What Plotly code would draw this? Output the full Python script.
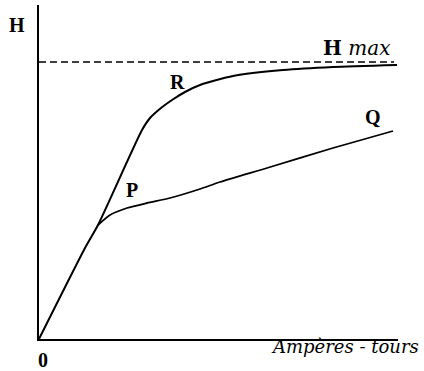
import plotly.graph_objects as go

# ampère-tours (x) vs H (y), in arbitrary units
or_x = [0, 46, 59, 103, 111, 122, 133, 146, 161, 194, 244, 294, 358]
or_y = [0, 91, 114, 209, 221, 231, 239, 247, 254, 263, 269, 272, 274]

pq_x = [59, 71, 88, 108, 131, 161, 181, 228, 294, 354]
pq_y = [114, 124, 131, 136, 141, 150, 157, 171, 191, 208]

h_max = 277
h_max_end = 355

x_max, y_max = 359, 334

labels = ["<b>H</b>", "<b>R</b>", "<b>P</b>", "<b>Q</b>", "<b>0</b>"]
label_x = [-22, 138, 93, 334, 4]
label_y = [314, 257, 149, 222, -21]

serif = "Liberation Serif, DejaVu Serif, serif"
italic = "DejaVu Serif, serif"

fig = go.Figure()
fig.add_trace(go.Scatter(x=or_x, y=or_y, mode="lines",
                         line=dict(color="black", width=2, shape="spline", smoothing=0.6),
                         hoverinfo="skip"))
fig.add_trace(go.Scatter(x=pq_x, y=pq_y, mode="lines",
                         line=dict(color="black", width=1.8, shape="spline", smoothing=0.6),
                         hoverinfo="skip"))
fig.add_trace(go.Scatter(x=[0, h_max_end], y=[h_max, h_max], mode="lines",
                         line=dict(color="black", width=1.5, dash="7px,4px"),
                         hoverinfo="skip"))


def label(text, x, y, size, family):
    # paper refs so the ones outside the axes are kept
    fig.add_annotation(x=x / x_max, y=y / y_max, xref="paper", yref="paper",
                       xanchor="center", yanchor="middle",
                       text=text, showarrow=False,
                       font=dict(family=family, size=size, color="black"))


for t, x, y in zip(labels, label_x, label_y):
    label(t, x, y, 20, serif)

label("<b>H</b> <i>max</i>", 317, 291, 20, italic)
label("<i>Ampères - tours</i>", 306, -7, 18, italic)

fig.update_xaxes(range=[0, x_max], showline=True, linecolor="black", linewidth=1.5,
                 showgrid=False, zeroline=False, showticklabels=False, ticks="")
fig.update_yaxes(range=[0, y_max], showline=True, linecolor="black", linewidth=1.5,
                 showgrid=False, zeroline=False, showticklabels=False, ticks="")
fig.update_layout(width=424, height=371, showlegend=False,
                  margin=dict(l=39, r=26, t=5, b=32),
                  plot_bgcolor="white", paper_bgcolor="white")

fig.write_html("out.html", config={"displayModeBar": False},
               post_script="document.body.style.margin='0';")
